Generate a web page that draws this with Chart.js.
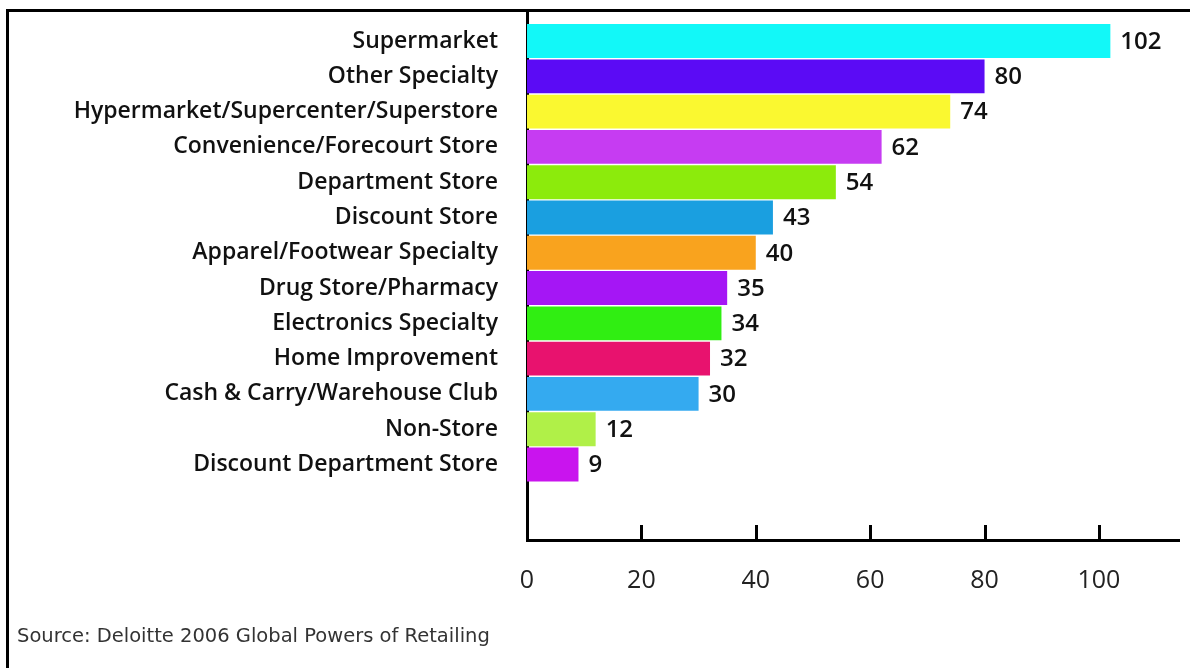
<!DOCTYPE html>
<html>
<head>
<meta charset="utf-8">
<script src="https://cdn.jsdelivr.net/npm/chart.js@4"></script>
<style>
  html, body { margin: 0; padding: 0; background: #fff; }
  #wrap { position: relative; width: 1190px; height: 668px; overflow: hidden; }
  #frame { position: absolute; left: 6px; top: 9px; right: -10px; bottom: -10px;
           border-left: 3px solid #000; border-top: 3px solid #000; }
  #chart { position: absolute; left: 0; top: 0; }
  #source { position: absolute; left: 17px; top: 624px; font-family: "DejaVu Sans", sans-serif;
            font-size: 19.5px; color: #333; }
</style>
</head>
<body>
<div id="wrap">
  <div id="frame"></div>
  <canvas id="chart" width="1190" height="668"></canvas>
  <div id="source">Source: Deloitte 2006 Global Powers of Retailing</div>
</div>
<script>
const categories = [
  'Supermarket', 'Other Specialty', 'Hypermarket/Supercenter/Superstore',
  'Convenience/Forecourt Store', 'Department Store', 'Discount Store',
  'Apparel/Footwear Specialty', 'Drug Store/Pharmacy', 'Electronics Specialty',
  'Home Improvement', 'Cash & Carry/Warehouse Club', 'Non-Store',
  'Discount Department Store'
];
const values = [102, 80, 74, 62, 54, 43, 40, 35, 34, 32, 30, 12, 9];
const barColors = [
  '#12f8f8', '#5b0bf5', '#faf830', '#c63cf2', '#8ceb0c', '#1a9fe0', '#f9a31e',
  '#a516f5', '#30ee12', '#e8126e', '#34aaf0', '#b0f048', '#c914ee'
];
const xTicks = [0, 20, 40, 60, 80, 100];

const labelFont = { family: "'Open Sans', sans-serif", size: 23, weight: '600' };

// value labels at the end of each bar
const valueLabels = {
  id: 'valueLabels',
  afterDatasetsDraw(chart) {
    const ctx = chart.ctx;
    const meta = chart.getDatasetMeta(0);
    ctx.save();
    ctx.fillStyle = '#111';
    ctx.font = "600 24px 'Open Sans', sans-serif";
    ctx.textBaseline = 'middle';
    ctx.textAlign = 'left';
    meta.data.forEach((bar, i) => {
      ctx.fillText(String(values[i]), bar.x + 10, bar.y + 1);
    });
    ctx.restore();
  }
};

// short tick marks pointing up from the x axis
const innerTicks = {
  id: 'innerTicks',
  afterDraw(chart) {
    const ctx = chart.ctx;
    const x = chart.scales.x;
    const bottom = chart.chartArea.bottom;
    ctx.save();
    ctx.strokeStyle = '#000';
    ctx.lineWidth = 3;
    xTicks.slice(1).forEach(v => {
      const px = Math.round(x.getPixelForValue(v)) + 0.5;
      ctx.beginPath();
      ctx.moveTo(px, bottom);
      ctx.lineTo(px, bottom - 15);
      ctx.stroke();
    });
    ctx.restore();
  }
};

new Chart(document.getElementById('chart'), {
  type: 'bar',
  data: {
    datasets: [{
      data: values.map((v, i) => ({ x: v, y: i })),
      backgroundColor: barColors,
      borderWidth: 0,
      categoryPercentage: 1,
      barPercentage: 0.96
    }]
  },
  options: {
    indexAxis: 'y',
    responsive: false,
    animation: false,
    layout: { padding: { top: 10, right: 11, left: 0, bottom: 0 } },
    plugins: { legend: { display: false }, tooltip: { enabled: false } },
    scales: {
      x: {
        type: 'linear',
        min: 0,
        max: 114,
        afterBuildTicks: s => { s.ticks = xTicks.map(v => ({ value: v })); },
        afterFit: s => { s.height = 128; s.paddingLeft = 0; s.paddingRight = 0; },
        grid: { display: false },
        border: { color: '#000', width: 3 },
        ticks: { color: '#222', font: { family: "'Open Sans', sans-serif", size: 25 }, padding: 18 }
      },
      y: {
        type: 'linear',
        reverse: true,
        offset: false,
        min: -0.88,
        max: 14.14,
        afterBuildTicks: s => { s.ticks = categories.map((c, i) => ({ value: i })); },
        afterFit: s => { s.width = 527; s.paddingTop = 0; s.paddingBottom = 0; },
        grid: { display: false, offset: false },
        border: { color: '#000', width: 3 },
        ticks: {
          autoSkip: false,
          color: '#111',
          font: labelFont,
          padding: 21,
          callback: v => categories[v]
        }
      }
    }
  },
  plugins: [valueLabels, innerTicks]
});
</script>
</body>
</html>
